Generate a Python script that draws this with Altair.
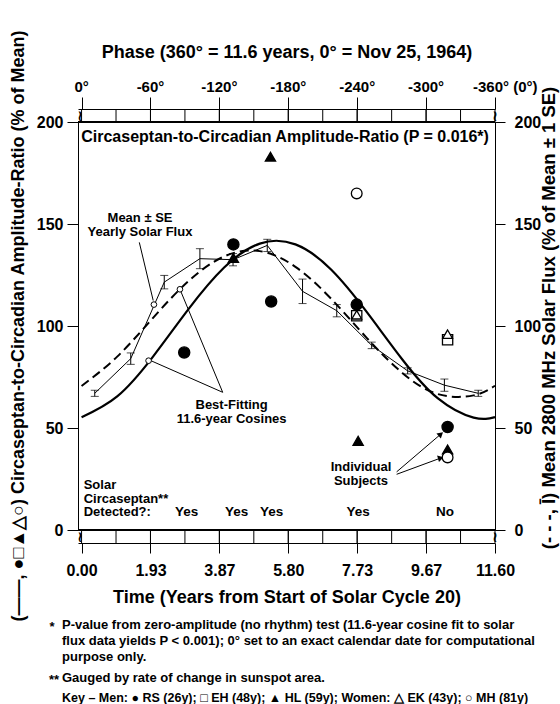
import altair as alt
import pandas as pd

FONT = "Liberation Sans"

# ---------------- data ----------------
fit_years = [0, 1, 2, 3, 4, 5, 6, 7, 8, 9, 10, 11, 11.6]
solar_cosine = [70.6, 85.0, 103.9, 122.0, 134.1, 136.7, 129.0, 113.4, 94.2, 77.0, 66.6, 66.0, 70.7]
subject_cosine = [55.3, 65.5, 84.9, 108.3, 128.7, 140.4, 140.0, 127.7, 106.9, 83.6, 64.5, 55.1, 55.3]

flux_years = [0.37, 1.38, 2.32, 3.32, 4.25, 5.21, 6.20, 7.16, 8.14, 9.15, 10.18, 11.13]
flux_mean = [67.0, 84.0, 121.5, 133.0, 132.5, 139.5, 117.0, 107.5, 90.5, 78.0, 71.0, 67.0]
flux_se = [1.5, 2.8, 3.3, 4.9, 3.0, 3.0, 6.0, 3.0, 1.6, 1.5, 3.0, 1.5]

rs_years = [2.88, 4.26, 5.32, 7.72, 10.27]
rs_ratio = [87.0, 140.0, 112.0, 110.5, 50.5]
eh_years = [7.72, 10.27]
eh_ratio = [105.0, 93.3]
hl_years = [4.26, 5.30, 7.76, 10.27]
hl_ratio = [133.4, 183.0, 43.7, 39.5]
ek_years = [7.72, 10.27]
ek_ratio = [105.5, 96.0]
mh_years = [7.72, 10.27]
mh_ratio = [165.0, 35.6]

time_ticks = [0, 1.9333, 3.8667, 5.8, 7.7333, 9.6667, 11.6]
phase_labels = ["0°", "-60°", "-120°", "-180°", "-240°", "-300°", "-360° (0°)"]
strip_divisions = [0.9667, 1.9333, 2.9, 3.8667, 4.8333, 5.8, 6.7667, 7.7333, 8.7, 9.6667, 10.6333]
ratio_ticks = [0, 50, 100, 150, 200]

detect_years = [2.95, 4.35, 5.33, 7.76, 10.2]
detect_labels = ["Yes", "Yes", "Yes", "Yes", "No"]

footnote_1 = ["P-value from zero-amplitude (no rhythm) test (11.6-year cosine fit to solar",
              "flux data yields P < 0.001); 0° set to an exact calendar date for computational",
              "purpose only."]
footnote_2 = "Gauged by rate of change in sunspot area."
key_line = "Key –  Men: ● RS (26y); □ EH (48y); ▲ HL (59y); Women: △ EK (43y); ○ MH (81y)"

# ---------------- layout ----------------
W, H = 417, 408
xs = alt.Scale(domain=[-0.1, 11.6], nice=False, zero=False)
ys = alt.Scale(domain=[0, 200], nice=False, zero=False)


def X(f="t"):
    return alt.X(f"{f}:Q", scale=xs, axis=None)


def Y(f="v"):
    return alt.Y(f"{f}:Q", scale=ys, axis=None)


common_axis = dict(grid=False, domainColor="black", tickColor="black", labelColor="black",
                   labelFont=FONT, labelFontWeight="bold", title=None, domainWidth=1, tickWidth=1)

bottom_axis = alt.Axis(orient="bottom", offset=13, values=time_ticks, format=".2f", tickSize=10,
                       labelFontSize=16, labelPadding=9, labelFlush=False, labelOverlap=False,
                       **common_axis)
top_axis = alt.Axis(orient="top", offset=13, values=time_ticks, tickSize=12, labels=False, **common_axis)
left_axis = alt.Axis(orient="left", values=ratio_ticks, tickSize=11, labelPadding=4,
                     labelFontSize=16, **common_axis)
right_axis = alt.Axis(orient="right", values=ratio_ticks, tickSize=10, labelPadding=9,
                      labelFontSize=16, **common_axis)

div_df = pd.DataFrame({"t": strip_divisions})
tick_df = pd.DataFrame({"t": time_ticks, "s": phase_labels})

bottom_strip = alt.Chart(tick_df).mark_rule(color="black", strokeWidth=1).encode(
    x=alt.X("t:Q", scale=xs, axis=bottom_axis), y=alt.value(H), y2=alt.value(H + 13))
bottom_div = alt.Chart(div_df).mark_rule(color="black", strokeWidth=1).encode(
    x=X(), y=alt.value(H), y2=alt.value(H + 13))
top_strip = alt.Chart(tick_df).mark_rule(color="black", strokeWidth=1).encode(
    x=alt.X("t:Q", scale=xs, axis=top_axis), y=alt.value(-13), y2=alt.value(0))
top_div = alt.Chart(div_df).mark_rule(color="black", strokeWidth=1).encode(
    x=X(), y=alt.value(-13), y2=alt.value(0))
bottom_line = alt.Chart(div_df).mark_rule(color="black", strokeWidth=1).encode(
    x=alt.value(0), x2=alt.value(W), y=alt.value(H))
top_line = alt.Chart(div_df).mark_rule(color="black", strokeWidth=1).encode(
    x=alt.value(0), x2=alt.value(W), y=alt.value(0))


def otext(s, x, y, size, align="center", angle=None, font=FONT, baseline="middle"):
    kw = dict(font=font, fontWeight="bold", fontSize=size, color="black", align=align, baseline=baseline)
    if angle is not None:
        kw["angle"] = angle
    return alt.Chart(pd.DataFrame({"s": [s]})).mark_text(**kw).encode(
        x=alt.value(x), y=alt.value(y), text="s:N")


squiggles = [
    otext("≀", 2, -6.5, 15, font="DejaVu Sans"),
    otext("≀", W, -6.5, 15, font="DejaVu Sans"),
    otext("≀", 2, H + 6.5, 15, font="DejaVu Sans"),
    otext("≀", W, H + 6.5, 15, font="DejaVu Sans"),
]

# solar flux mean +- SE
flux_df = pd.DataFrame({"t": flux_years, "v": flux_mean,
                        "lo": [m - s for m, s in zip(flux_mean, flux_se)],
                        "hi": [m + s for m, s in zip(flux_mean, flux_se)]})
flux_line = alt.Chart(flux_df).mark_line(color="black", strokeWidth=1).encode(
    x=X(), y=alt.Y("v:Q", scale=ys, axis=left_axis))
flux_bars = alt.Chart(flux_df).mark_rule(color="black", strokeWidth=1).encode(
    x=X(), y=Y("lo"), y2="hi:Q")
caps_lo = alt.Chart(flux_df).mark_tick(orient="horizontal", size=8, thickness=1, color="black").encode(
    x=X(), y=Y("lo"))
caps_hi = alt.Chart(flux_df).mark_tick(orient="horizontal", size=8, thickness=1, color="black").encode(
    x=X(), y=Y("hi"))

cos_df = pd.DataFrame({"t": fit_years, "solar": solar_cosine, "subj": subject_cosine})
solar_fit_line = alt.Chart(cos_df).mark_line(color="black", strokeWidth=2, strokeDash=[9, 5],
                                             interpolate="natural").encode(
    x=X(), y=alt.Y("solar:Q", scale=ys, axis=right_axis))
subject_fit_line = alt.Chart(cos_df).mark_line(color="black", strokeWidth=2.2,
                                               interpolate="natural").encode(x=X(), y=Y("subj"))

# pointers
ptr_df = pd.DataFrame({"t": [1.62, 3.96, 3.96, 8.84, 8.84],
                       "v": [141.0, 67.5, 67.5, 28.5, 27.3],
                       "t2": [2.01, 2.76, 1.88, 10.08, 10.08],
                       "v2": [112.5, 118.0, 83.5, 47.0, 35.3]})
pointers = alt.Chart(ptr_df).mark_rule(color="black", strokeWidth=1).encode(
    x=X(), y=Y(), x2="t2:Q", y2="v2:Q")
circ_df = pd.DataFrame({"t": [2.03, 2.76, 1.88], "v": [110.5, 118.0, 83.0]})
ptr_circles = alt.Chart(circ_df).mark_point(shape="circle", size=32, filled=True, fill="white",
                                           stroke="black", strokeWidth=1, opacity=1).encode(x=X(), y=Y())
arrow1 = alt.Chart(pd.DataFrame({"t": [10.08], "v": [47.0]})).mark_point(
    shape="triangle-up", size=45, filled=True, color="black", angle=49, opacity=1).encode(x=X(), y=Y())
arrow2 = alt.Chart(pd.DataFrame({"t": [10.08], "v": [35.3]})).mark_point(
    shape="triangle-up", size=45, filled=True, color="black", angle=74, opacity=1).encode(x=X(), y=Y())


def subj(years, vals, shape, filled, size):
    df = pd.DataFrame({"t": years, "v": vals})
    return alt.Chart(df).mark_point(shape=shape, size=size, filled=True,
                                    fill="black" if filled else "white",
                                    stroke="black", strokeWidth=1.3, opacity=1).encode(x=X(), y=Y())


rs = subj(rs_years, rs_ratio, "circle", True, 125)
eh = subj(eh_years, eh_ratio, "square", False, 105)
ek = subj(ek_years, ek_ratio, "triangle-up", False, 95)
hl = subj(hl_years, hl_ratio, "triangle-up", True, 105)
mh = subj(mh_years, mh_ratio, "circle", False, 115)


def dtext(df, size, align="center"):
    return alt.Chart(df).mark_text(font=FONT, fontWeight="bold", fontSize=size, color="black",
                                   align=align, baseline="middle").encode(x=X(), y=Y(), text="s:N")


inner_title = dtext(pd.DataFrame({"t": [5.71], "v": [192.6],
                                  "s": ["Circaseptan-to-Circadian Amplitude-Ratio (P = 0.016*)"]}), 16)
notes = dtext(pd.DataFrame({
    "t": [1.64, 1.64, 4.21, 4.21, 7.84, 7.84],
    "v": [152.8, 146.0, 61.3, 54.5, 31.0, 23.8],
    "s": ["Mean ± SE", "Yearly Solar Flux", "Best-Fitting", "11.6-year Cosines", "Individual", "Subjects"]}), 13)
solar_block = dtext(pd.DataFrame({"t": [0.06, 0.06, 0.06], "v": [22.0, 15.3, 8.7],
                                  "s": ["Solar", "Circaseptan**", "Detected?:"]}), 13, align="left")
detect = dtext(pd.DataFrame({"t": detect_years, "v": [8.7] * len(detect_years), "s": detect_labels}), 13.5)

# phase labels (last one left-aligned so that "(0°)" trails it)
top_labels = alt.Chart(tick_df.iloc[:-1]).mark_text(
    font=FONT, fontWeight="bold", fontSize=15, color="black", baseline="middle").encode(
    x=X(), y=alt.value(-35), text="s:N")
top_last = alt.Chart(tick_df.iloc[-1:]).mark_text(
    font=FONT, fontWeight="bold", fontSize=15, color="black", baseline="middle", align="left", dx=-22).encode(
    x=X(), y=alt.value(-35), text="s:N")

outer = [
    otext("Phase (360° = 11.6 years, 0° = Nov 25, 1964)", 209, -69, 18),
    otext("(——, ●□▲△○) Circaseptan-to-Circadian Amplitude-Ratio (% of Mean)", -59, 204, 18, angle=270),
    otext("(- - -, Ī) Mean 2800 MHz Solar Flux (% of Mean ± 1 SE)", 471, 196, 18.5, angle=270),
    otext("Time (Years from Start of Solar Cycle 20)", 209, 476, 18),
    otext("*", -26, 505, 13),
    otext(footnote_1[0], -16, 503, 13, align="left"),
    otext(footnote_1[1], -16, 519, 13, align="left"),
    otext(footnote_1[2], -16, 535, 13, align="left"),
    otext("**", -19, 558, 13, align="right"),
    otext(footnote_2, -16, 556, 13, align="left"),
    otext(key_line, -16, 576, 12.5, align="left"),
]

layers = [bottom_strip, bottom_div, top_strip, top_div, bottom_line, top_line] + squiggles + [
    flux_line, flux_bars, caps_lo, caps_hi, solar_fit_line, subject_fit_line,
    pointers, ptr_circles, arrow1, arrow2, rs, eh, ek, hl, mh,
    inner_title, notes, solar_block, detect, top_labels, top_last] + outer

chart = alt.layer(*layers).properties(
    width=W, height=H,
    autosize=alt.AutoSizeParams(type="none"),
    padding={"left": 78, "top": 122, "right": 65, "bottom": 174},
    background="white",
).resolve_axis(x="independent", y="independent").configure_view(stroke="black", strokeWidth=1)

chart.save("out.html", embed_options={"renderer": "svg", "actions": False})
